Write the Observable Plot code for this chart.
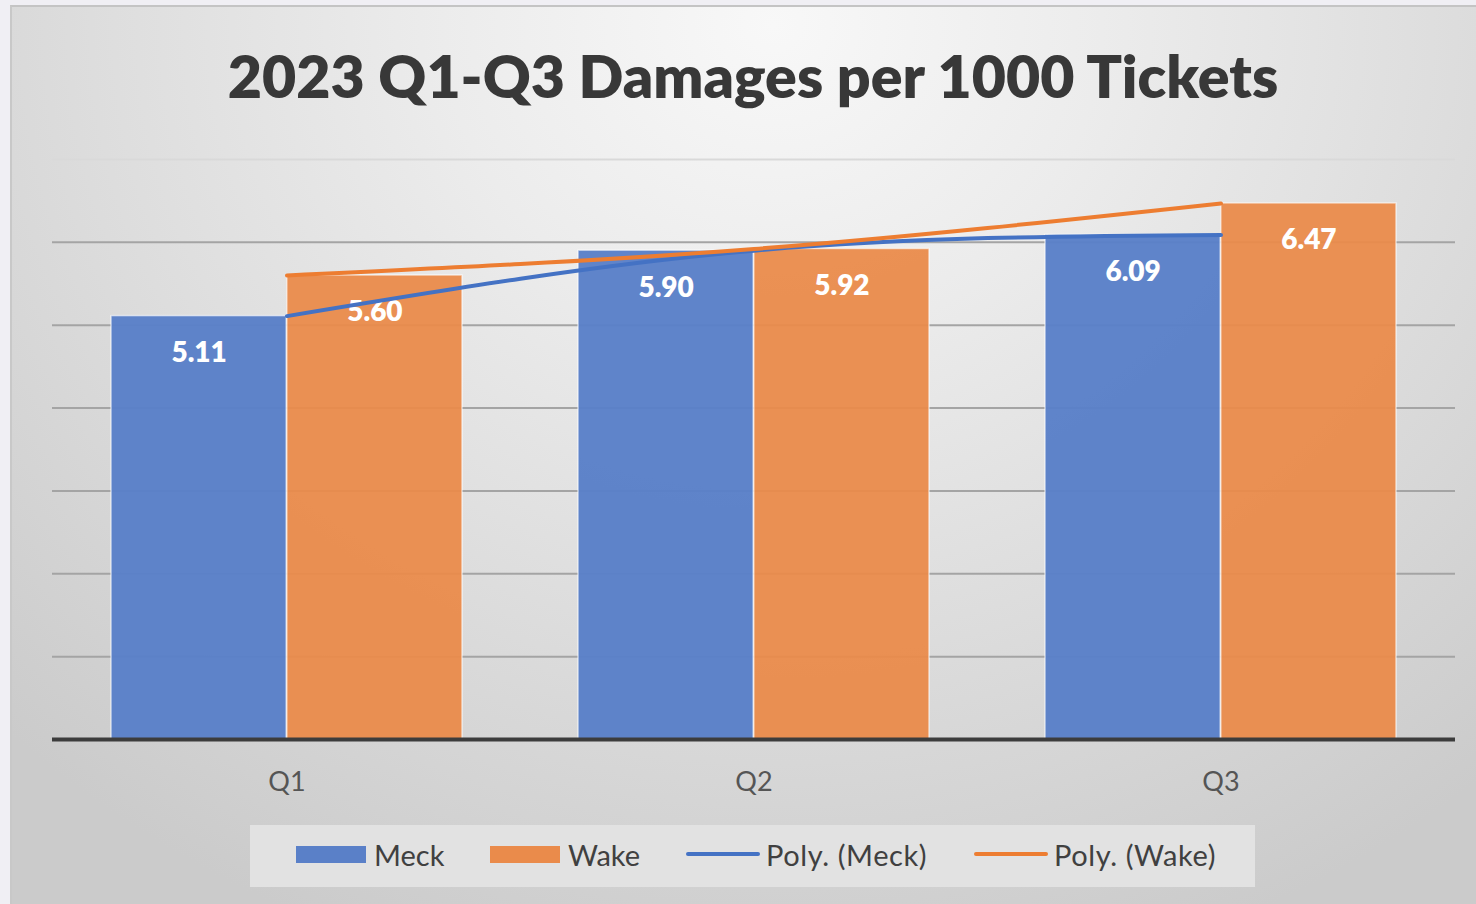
<!DOCTYPE html>
<html>
<head>
<meta charset="utf-8">
<script src="https://cdn.jsdelivr.net/npm/d3@7"></script>
<script src="https://cdn.jsdelivr.net/npm/@observablehq/plot@0.6"></script>
<style>
  html, body { margin: 0; padding: 0; background: #f0eff4; width: 1476px; height: 904px; overflow: hidden; }
  #frame {
    position: absolute; left: 10px; top: 5px; width: 1466px; height: 899px;
    border-top: 2px solid #c4c4c4; border-left: 2px solid #c8c8c8; box-sizing: border-box;
    background: radial-gradient(ellipse 75% 110% at 52% 2%, #f8f8f8 0%, #ececec 30%, #dedede 60%, #cbcbcb 100%);
  }
  #title {
    position: absolute; left: 0; width: 1506px; top: 41px; text-align: center;
    font-family: Lato, "Open Sans", sans-serif; font-weight: 800; font-size: 59px; line-height: 70px; color: #383838;
  }
  #chart { position: absolute; left: 0; top: 140px; }
  #legend {
    position: absolute; left: 250px; top: 825px; width: 1005px; height: 62px; background: #e2e2e2;
    font-family: Lato, "Open Sans", sans-serif; font-size: 29px; color: #404040;
  }
  .item { display: flex; align-items: center; position: absolute; top: -2px; height: 62px; }
  .sw { width: 70px; height: 17px; margin-right: 8px; }
  .ln { width: 74px; height: 4px; border-radius: 2px; margin-right: 6px; }
  .wide { letter-spacing: 0.6px; }
</style>
</head>
<body>
<div id="frame"></div>
<div id="title">2023 Q1-Q3 Damages per 1000 Tickets</div>
<div id="chart"></div>
<div id="legend">
  <div class="item" style="left:46px"><div class="sw" style="background:#5a80c8"></div>Meck</div>
  <div class="item" style="left:240px"><div class="sw" style="background:#ea8b4b"></div>Wake</div>
  <div class="item wide" style="left:436px"><div class="ln" style="background:#4472c4"></div>Poly. (Meck)</div>
  <div class="item wide" style="left:724px"><div class="ln" style="background:#ed7d31"></div>Poly. (Wake)</div>
</div>
<script>
const quarters = ["Q1", "Q2", "Q3"];
const meck = [5.11, 5.90, 6.09];
const wake = [5.60, 5.92, 6.47];
const gridValues = [1, 2, 3, 4, 5, 6, 7];

const meckRows = quarters.map((q, i) => ({quarter: q, value: meck[i]}));
const wakeRows = quarters.map((q, i) => ({quarter: q, value: wake[i]}));

const outer = 58;   // gap between category edge and first bar
const half = 233.8; // half of the category band
const shift = (half - outer) / 2; // bar centre offset from category centre

const chart = Plot.plot({
  width: 1476,
  height: 680,
  marginTop: 19,
  marginBottom: 81,
  marginLeft: 52,
  marginRight: 21,
  style: {background: "transparent", fontFamily: "Lato, 'Open Sans', sans-serif"},
  x: {type: "band", domain: quarters, padding: 0, label: null},
  y: {domain: [0, 7], axis: null},
  marks: [
    Plot.ruleY(gridValues, {stroke: d => d === 7 ? "#d9d9d9" : "#a4a4a4", strokeWidth: 2}),
    Plot.barY(meckRows, {x: "quarter", y: "value", fill: "#5a80c8", fillOpacity: 0.97, stroke: "#ffffff", strokeOpacity: 0.6, strokeWidth: 1.5, insetLeft: outer, insetRight: half}),
    Plot.barY(wakeRows, {x: "quarter", y: "value", fill: "#ea8b4b", fillOpacity: 0.95, stroke: "#ffffff", strokeOpacity: 0.6, strokeWidth: 1.5, insetLeft: half, insetRight: outer}),
    Plot.ruleY([0], {stroke: "#3c3c3c", strokeWidth: 4}),
    Plot.text(meckRows, {x: "quarter", y: "value", text: d => d.value.toFixed(2), dx: -shift, dy: 37, fill: "white", fontSize: 28, fontWeight: 800}),
    Plot.text(wakeRows, {x: "quarter", y: "value", text: d => d.value.toFixed(2), dx: shift, dy: 37, fill: "white", fontSize: 28, fontWeight: 800}),
    Plot.line(meckRows, {x: "quarter", y: "value", stroke: "#4472c4", strokeWidth: 4, curve: "natural"}),
    Plot.line(wakeRows, {x: "quarter", y: "value", stroke: "#ed7d31", strokeWidth: 4, curve: "natural"}),
    Plot.axisX({tickSize: 0, tickPadding: 32, fontSize: 27, color: "#555555", label: null})
  ]
});
document.getElementById("chart").appendChild(chart);
</script>
</body>
</html>
